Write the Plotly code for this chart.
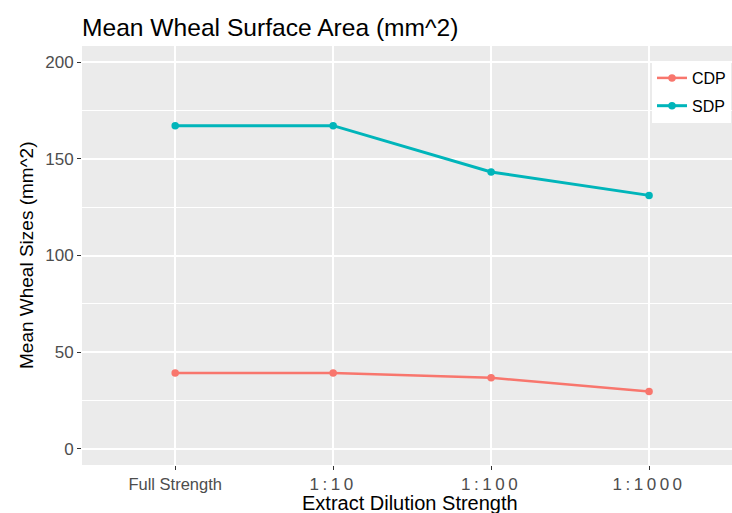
import plotly.graph_objects as go

categories = ["Full Strength", "1:10", "1:100", "1:1000"]
cdp = [39.2, 39.2, 36.7, 29.6]
sdp = [167.2, 167.2, 143.2, 131.1]
y_ticks = [0, 50, 100, 150, 200]

# tick label styling: ratio labels are drawn with wide letter spacing in the reference
tick_text = [c if i == 0 else '<span style="letter-spacing:3.5px;font-size:17px">' + c + '</span>'
             for i, c in enumerate(categories)]

fig = go.Figure()
fig.add_trace(go.Scatter(x=categories, y=cdp, name="CDP", mode="lines+markers", legendgroup="a",
                         line=dict(color="#F8766D", width=2.5), marker=dict(size=7.5, color="#F8766D")))
fig.add_trace(go.Scatter(x=categories, y=sdp, name="SDP", mode="lines+markers", legendgroup="b",
                         line=dict(color="#00B5BA", width=3), marker=dict(size=7.5, color="#00B5BA")))

W, H = 732, 513
L, R, T, B = 82, 0, 46, 48
fig.update_layout(
    width=W, height=H,
    margin=dict(l=L, r=R, t=T, b=B, autoexpand=False),
    paper_bgcolor="white", plot_bgcolor="#EBEBEB",
    font=dict(family="Liberation Sans, Arial, sans-serif", color="#4D4D4D"),
    title=dict(text="Mean Wheal Surface Area (mm^2)", xref="container", x=82 / W, xanchor="left",
               yref="container", y=1 - 27 / H, yanchor="middle",
               font=dict(size=24.6, color="black")),
    legend=dict(x=(652 - L) / (W - L), y=(H - B - 61) / (H - T - B), xanchor="left", yanchor="top",
                bgcolor="white", font=dict(size=16, color="black"), itemwidth=30,
                traceorder="grouped", tracegroupgap=4),
    showlegend=True,
    annotations=[
        dict(text="Extract Dilution Strength", xref="paper", yref="paper",
             x=(410 - L) / (W - L), y=-(503 - (H - B)) / (H - T - B), xanchor="center", yanchor="middle",
             showarrow=False, font=dict(size=20, color="black")),
        dict(text="Mean Wheal Sizes (mm^2)", xref="paper", yref="paper",
             x=-(L - 26) / (W - L), y=(H - B - 256) / (H - T - B), xanchor="center", yanchor="middle",
             textangle=-90, showarrow=False, font=dict(size=19, color="black")),
    ],
)
fig.update_xaxes(
    type="category", categoryorder="array", categoryarray=categories,
    tickvals=categories, ticktext=tick_text,
    range=[-0.59, 3.525], showgrid=True, gridcolor="white", gridwidth=1.6,
    ticks="outside", ticklen=4, tickcolor="#333333", tickwidth=1,
    tickfont=dict(size=16.5, color="#4D4D4D"), zeroline=False, showline=False, automargin=False,
)
fig.update_yaxes(
    range=[-8.4, 208.4], tickvals=y_ticks, showgrid=True, gridcolor="white", gridwidth=1.6,
    minor=dict(dtick=25, tick0=0, showgrid=True, gridcolor="white", gridwidth=0.8),
    ticks="outside", ticklen=4, tickcolor="#333333", tickwidth=1,
    tickfont=dict(size=17, color="#4D4D4D"), zeroline=False, showline=False, automargin=False,
)
fig.write_html("out.html", config={"displayModeBar": False},
               post_script="document.body.style.margin='0';document.body.style.overflow='hidden';")
